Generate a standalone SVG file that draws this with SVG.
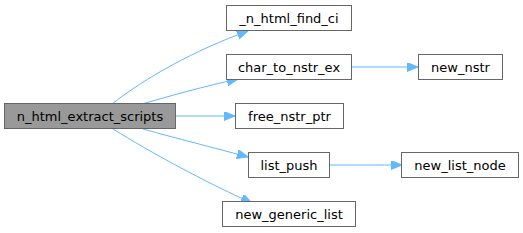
<svg xmlns="http://www.w3.org/2000/svg" width="523" height="233" viewBox="0 0 523 233">
<style>
.n rect{fill:#ffffff;stroke:#666666;stroke-width:1}
#main rect{fill:#999999}
.n text{font-family:"DejaVu Sans",sans-serif;font-size:13px;fill:#000000;text-anchor:middle}
.e{fill:none;stroke:#63b8ff;stroke-width:1;marker-end:url(#ah)}
</style>
<defs>
<marker id="ah" markerUnits="userSpaceOnUse" markerWidth="12" markerHeight="10" refX="11" refY="4.5" orient="auto">
<path d="M0,0 L11,4.5 L0,9 Z" fill="#63b8ff" stroke="#63b8ff" stroke-width="1"/>
</marker>
</defs>
<g id="edges">
<path class="e" d="M112,104 C145,78 195,50 248,31"/>
<path class="e" d="M142,104 C170,96 205,86 238,79"/>
<path class="e" d="M175.5,116 L235,116"/>
<path class="e" d="M143,129 C175,138 215,148 248,157"/>
<path class="e" d="M113,129 C150,152 205,182 252,203"/>
<path class="e" d="M352,67 L418,67"/>
<path class="e" d="M330,165 L402,165"/>
</g>
<g id="main" class="n"><rect x="4.5" y="103.5" width="171" height="25"/><text x="90" y="120.5">n_html_extract_scripts</text></g>
<g id="n_html_find_ci" class="n"><rect x="226.5" y="5.5" width="125" height="25"/><text x="289" y="22.5">_n_html_find_ci</text></g>
<g id="char_to_nstr_ex" class="n"><rect x="226.5" y="54.5" width="125" height="25"/><text x="289" y="71.5">char_to_nstr_ex</text></g>
<g id="new_nstr" class="n"><rect x="418.5" y="54.5" width="84" height="25"/><text x="460.5" y="71.5">new_nstr</text></g>
<g id="free_nstr_ptr" class="n"><rect x="235.5" y="103.5" width="108" height="25"/><text x="289.5" y="120.5">free_nstr_ptr</text></g>
<g id="list_push" class="n"><rect x="248.5" y="152.5" width="81" height="25"/><text x="289" y="169.5">list_push</text></g>
<g id="new_list_node" class="n"><rect x="401.5" y="152.5" width="117" height="25"/><text x="460" y="169.5">new_list_node</text></g>
<g id="new_generic_list" class="n"><rect x="222.5" y="201.5" width="133" height="25"/><text x="289" y="218.5">new_generic_list</text></g>
</svg>
